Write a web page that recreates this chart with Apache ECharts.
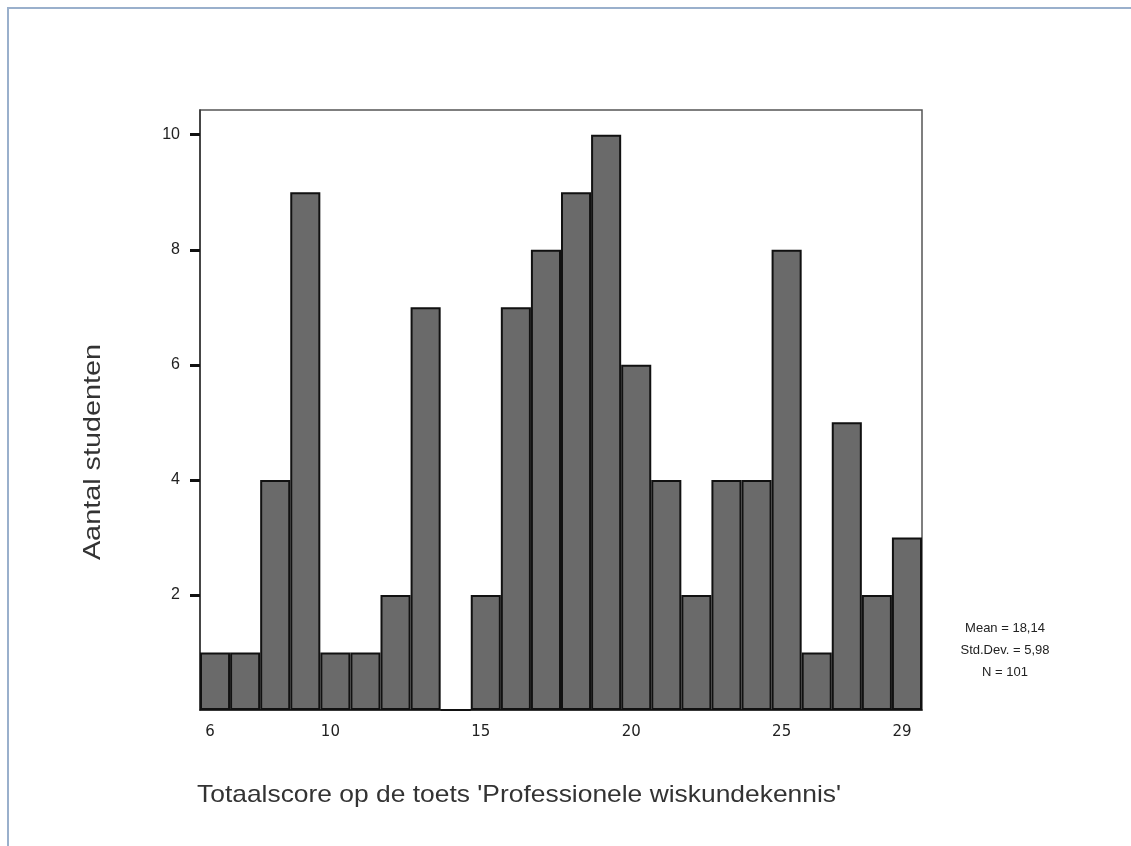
<!DOCTYPE html>
<html>
<head>
<meta charset="utf-8">
<script src="https://cdn.jsdelivr.net/npm/echarts@6/dist/echarts.min.js"></script>
<style>
  html, body { margin: 0; padding: 0; background: #fff; }
  .frame {
    position: absolute; left: 7px; top: 7px; width: 1124px; height: 839px;
    border-top: 2px solid #9ab0cc; border-left: 2px solid #9ab0cc;
    box-sizing: border-box;
  }
  #chart { position: absolute; left: 0; top: 0; width: 1131px; height: 846px; }
</style>
</head>
<body>
<div class="frame"></div>
<div id="chart"></div>
<script>
// scores 6..29 and counts per score (histogram)
const scores = ['6','7','8','9','10','11','12','13','14','15','16','17','18','19','20','21','22','23','24','25','26','27','28','29']
const counts = [1, 1, 4, 9, 1, 1, 2, 7, 0, 2, 7, 8, 9, 10, 6, 4, 2, 4, 4, 8, 1, 5, 2, 3]
const shownScores = ['6', '10', '15', '20', '25', '29']
const yTicks = [2, 4, 6, 8, 10]
const statsLines = ['Mean = 18,14', 'Std.Dev. = 5,98', 'N = 101']

const chart = echarts.init(document.getElementById('chart'))

const option = {
  animation: false,
  grid: {
    left: 200, top: 110, width: 722, height: 600,
    show: true, borderColor: '#555', borderWidth: 1.5,
    containLabel: false
  },
  xAxis: {
    type: 'category',
    data: scores,
    axisLine: { show: true, lineStyle: { color: '#222', width: 1.5 } },
    axisTick: { show: false },
    axisLabel: {
      interval: (i, v) => shownScores.includes(v),
      color: '#222', fontSize: 15, fontFamily: 'DejaVu Sans', margin: 15,
      padding: [0, 10, 0, 0]
    }
  },
  yAxis: {
    type: 'value',
    min: 0, max: 10.43, interval: 2,
    splitLine: { show: false },
    axisLine: { show: true, lineStyle: { color: '#333', width: 1.5 } },
    axisTick: { show: true, length: 10, customValues: yTicks, lineStyle: { color: '#111', width: 3 } },
    axisLabel: {
      customValues: yTicks,
      color: '#222', fontSize: 16, fontFamily: 'Liberation Sans', margin: 20
    }
  },
  series: [{
    type: 'bar',
    data: counts,
    barCategoryGap: '0%',
    itemStyle: { color: '#6a6a6a', borderColor: '#111', borderWidth: 2 }
  }],
  graphic: [
    {
      type: 'text', x: 93, y: 452, rotation: Math.PI / 2, scaleX: 1.2,
      style: {
        text: 'Aantal studenten', fill: '#333', font: '24px Liberation Sans',
        align: 'center', verticalAlign: 'middle'
      }
    },
    {
      type: 'text', x: 197, y: 795, scaleX: 1.1,
      style: {
        text: "Totaalscore op de toets 'Professionele wiskundekennis'",
        fill: '#333', font: '24px Liberation Sans', verticalAlign: 'middle'
      }
    },
    {
      type: 'text', x: 1005, y: 650,
      style: {
        text: statsLines.join('\n'), fill: '#222', font: '13px Liberation Sans',
        lineHeight: 22, align: 'center', verticalAlign: 'middle'
      }
    }
  ]
}

chart.setOption(option)
</script>
</body>
</html>
